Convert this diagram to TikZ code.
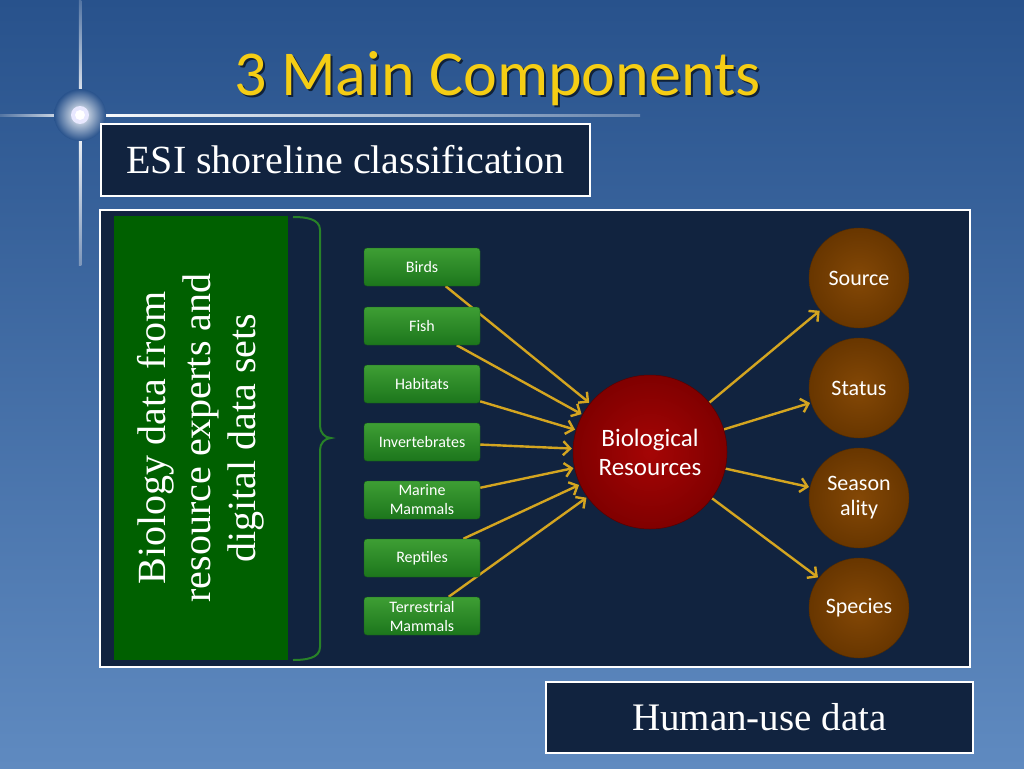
\documentclass[tikz,border=0pt]{standalone}
\usepackage{fontspec}
\setmainfont{Liberation Serif}
\newfontfamily\calib{Carlito}
\usetikzlibrary{arrows.meta}
\definecolor{bgtop}{RGB}{40,82,140}
\definecolor{bgbot}{RGB}{95,138,192}
\definecolor{navy}{RGB}{17,35,63}
\definecolor{titleyellow}{RGB}{245,205,20}
\definecolor{bigGreen}{RGB}{0,96,0}
\definecolor{sgTop}{RGB}{62,158,52}
\definecolor{sgBot}{RGB}{28,118,28}
\definecolor{redIn}{RGB}{165,5,5}
\definecolor{redOut}{RGB}{128,0,0}
\definecolor{brIn}{RGB}{132,72,6}
\definecolor{brOut}{RGB}{104,54,0}
\definecolor{gold}{RGB}{212,165,32}
\definecolor{braceGreen}{RGB}{40,130,40}
\pgfdeclarelayer{bg}
\pgfdeclarelayer{arr}
\pgfsetlayers{bg,arr,main}
\begin{document}
\begin{tikzpicture}[x=1pt,y=-1pt,
  panelbox/.style={draw=white, line width=1.5pt, fill=navy, text=white, inner sep=0pt},
  sbox/.style={rounded corners=3pt, minimum width=116pt, minimum height=38pt, top color=sgTop, bottom color=sgBot, draw=sgBot!80!black, line width=0.4pt, text=white, font=\calib\fontsize{16}{19}\selectfont, align=center, inner sep=1pt},
  bcirc/.style={circle, minimum size=100pt, inner color=brIn, outer color=brOut, draw=brOut!80!black, line width=0.4pt, text=white, font=\calib\fontsize{22}{25}\selectfont, align=center, inner sep=0pt},
  garrow/.style={draw=gold, line width=2.4pt, -{Straight Barb[length=7pt,width=14pt]}, shorten >=1pt}
]
\useasboundingbox (0,0) rectangle (1024,768);
% background
\begin{pgfonlayer}{bg}
\shade[top color=bgtop, bottom color=bgbot] (0,0) rectangle (1024,768);
% star flare
\shade[left color=bgtop!80!white, right color=white] (0,114) rectangle (80,116.5);
\shade[left color=white, right color=bgtop!70!white] (80,114) rectangle (640,116.5);
\shade[top color=bgtop!80!white, bottom color=white] (78.8,0) rectangle (81.3,115);
\shade[top color=white, bottom color=bgtop!60!white] (78.8,115) rectangle (81.3,265);
\shade[inner color=white, outer color=bgtop] (80,115) circle[radius=26];
\fill[white!85!blue!60!white] (80,115) circle[radius=9];
\fill[white] (80,115) circle[radius=5];
% main panel
\draw[white, line width=1.5pt, fill=navy] (100,210) rectangle (970,667);
% brace
\draw[braceGreen, line width=2pt] (293,217) to[out=0,in=90] (320,230) -- (320,426) to[out=-90,in=180] (331,438) to[out=180,in=90] (320,450) -- (320,647) to[out=-90,in=0] (293,660);
\end{pgfonlayer}

% title
\node[anchor=base, text=black!60!bgtop, font=\calib\fontsize{64}{64}\selectfont] at (499.5,97) {3 Main Components};
\node[anchor=base, text=titleyellow, font=\calib\fontsize{64}{64}\selectfont] (title) at (497.5,95) {3 Main Components};

% ESI box
\node[panelbox, anchor=north west, minimum width=489pt, minimum height=72pt, font=\fontsize{40}{44}\selectfont] (esi) at (100,123) {ESI shoreline classification};

% green tall box
\node[fill=bigGreen, rotate=90, minimum width=444pt, minimum height=174pt, text=white, align=center, inner sep=0pt, font=\fontsize{40}{45}\selectfont] (bio) at (201,438) {Biology data from\\resource experts and\\digital data sets};

% small boxes
\node[sbox] (birds) at (422,267) {Birds};
\node[sbox] (fish) at (422,326) {Fish};
\node[sbox] (hab) at (422,384) {Habitats};
\node[sbox] (inv) at (422,442) {Invertebrates};
\node[sbox] (mar) at (422,500) {Marine\\Mammals};
\node[sbox] (rep) at (422,558) {Reptiles};
\node[sbox] (ter) at (422,616) {Terrestrial\\Mammals};

% central red circle
\node[circle, minimum size=154pt, inner color=redIn, outer color=redOut, draw=redOut!70!black, line width=0.5pt, text=white, align=center, font=\calib\fontsize{25}{29}\selectfont, inner sep=0pt] (res) at (650,452) {Biological\\Resources};

% brown circles
\node[bcirc] (src) at (859,278) {Source};
\node[bcirc] (sta) at (859,388) {Status};
\node[bcirc] (sea) at (859,498) {Season\\ality};
\node[bcirc] (spe) at (859,608) {Species};

% arrows
\begin{pgfonlayer}{arr}
\foreach \n in {birds,fish,hab,inv,mar,rep,ter}{
  \draw[garrow] (\n) -- (res);
}
\foreach \n in {src,sta,sea,spe}{
  \draw[garrow] (res) -- (\n);
}
\end{pgfonlayer}

% human-use box
\node[panelbox, anchor=north west, minimum width=427pt, minimum height=71pt, font=\fontsize{39}{43}\selectfont] (human) at (545,681) {Human-use data};
\end{tikzpicture}
\end{document}
